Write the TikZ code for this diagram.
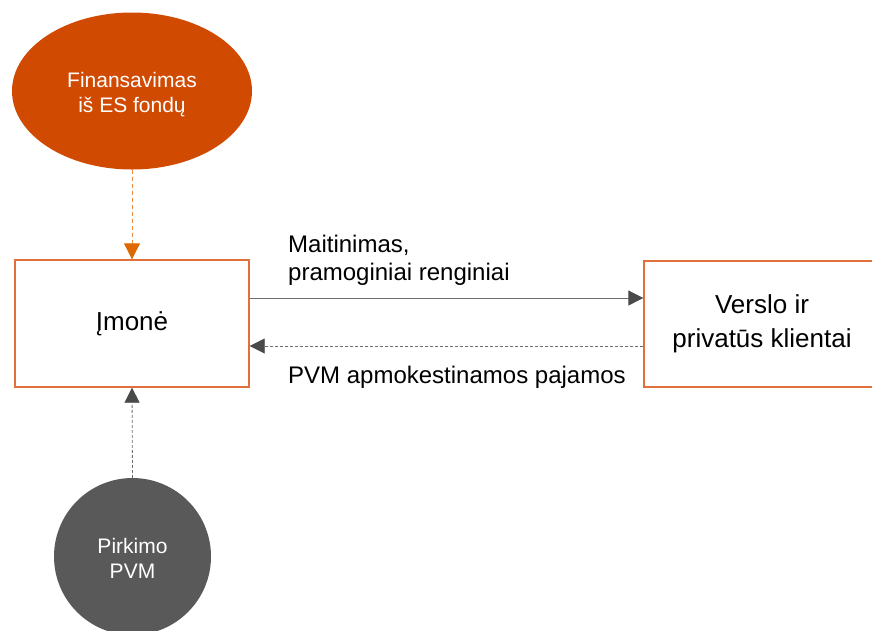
\documentclass[tikz,border=0pt]{standalone}
\usepackage{fontspec}
\setmainfont{Liberation Sans}
\usetikzlibrary{arrows.meta,shapes.geometric,calc}
\definecolor{pwcorange}{HTML}{D04A02}
\definecolor{boxorange}{HTML}{E2703A}
\definecolor{dashorange}{HTML}{EC8A40}
\definecolor{tiporange}{HTML}{DD6A00}
\definecolor{circgray}{HTML}{595959}
\definecolor{linegray}{HTML}{6E6E6E}
\definecolor{tipgray}{HTML}{4A4A4A}
\tikzset{
  boxnode/.style={draw=boxorange,line width=1.4pt,fill=white,inner sep=0pt,align=center,
    font=\fontsize{26}{34}\selectfont},
  blobtext/.style={text=white,align=center,inner sep=0pt,font=\fontsize{21}{25}\selectfont},
  lbl/.style={inner sep=0pt,align=left,text=black,font=\fontsize{24}{28}\selectfont},
  solidflow/.style={draw=linegray,line width=1pt,-{Triangle[length=15pt,width=15pt,color=tipgray]}},
  dashflow/.style={draw=linegray,line width=0.8pt,dash pattern=on 3pt off 2pt,-{Triangle[length=15pt,width=15pt,color=tipgray]}},
  orangeflow/.style={draw=dashorange,line width=1pt,dash pattern=on 4pt off 3pt,-{Triangle[length=16pt,width=16pt,color=tiporange]}}
}
\begin{document}
\begin{tikzpicture}[x=1pt,y=-1pt]
\useasboundingbox (0,0) rectangle (872,630);
\clip (0,0) rectangle (872,630);
% nodes
\node[ellipse,fill=pwcorange,minimum width=240pt,minimum height=157pt,inner sep=0pt] (fin) at (132,91) {};
\node[blobtext] (fintxt) at (132,95) {Finansavimas\\iš ES fondų};
\node[boxnode,minimum width=234pt,minimum height=127pt] (imone) at (132,323.5) {Įmonė};
\node[boxnode,minimum width=236pt,minimum height=126pt] (klient) at (762,324) {Verslo ir\\privatūs klientai};
\node[circle,fill=circgray,minimum size=157pt,inner sep=0pt] (pirk) at (132.5,556.5) {};
\node[blobtext] (pirktxt) at (132.5,558) {Pirkimo\\PVM};
% connectors
\draw[orangeflow] (fin.south) -- (imone.north);
\draw[dashflow] (pirk.north) -- (imone.south);
\draw[solidflow] ([yshift=25.5pt]imone.east) -- ([yshift=25.5pt]imone.east -| klient.west);
\draw[dashflow] ([yshift=-22.5pt]imone.east -| klient.west) -- ([yshift=-22.5pt]imone.east);
% labels
\node[lbl,anchor=base west] (lblA) at (288,280) {Maitinimas,\\pramoginiai renginiai};
\node[lbl,anchor=base west] (lblB) at (288,383) {PVM apmokestinamos pajamos};
\end{tikzpicture}
\end{document}
